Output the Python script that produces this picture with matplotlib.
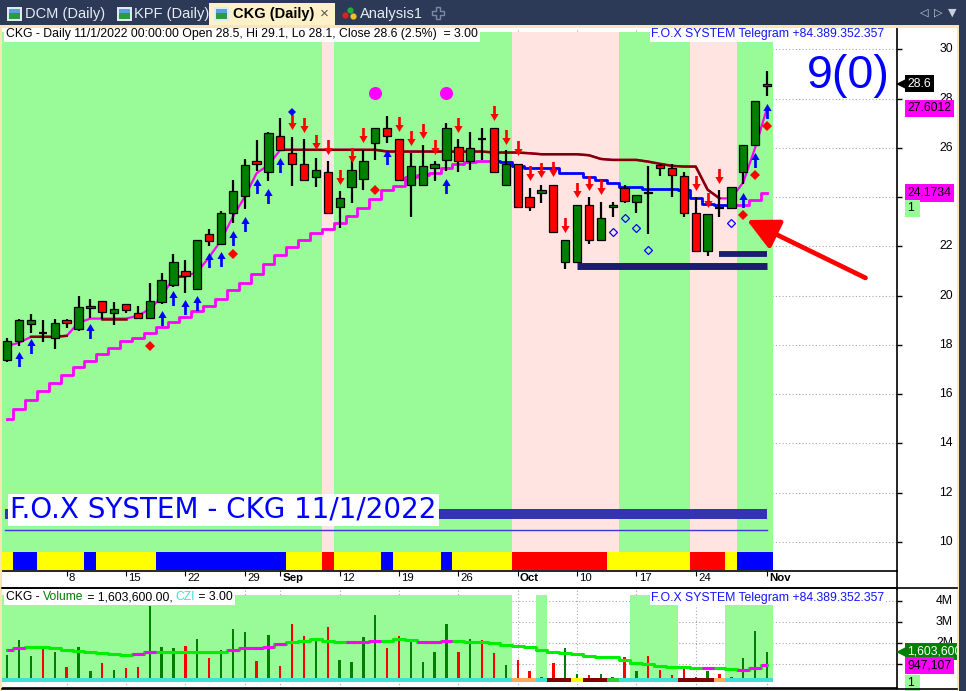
import numpy as np
import matplotlib
matplotlib.use("Agg")
import matplotlib.pyplot as plt
import matplotlib.transforms as mtransforms
from matplotlib.path import Path
from matplotlib.patches import Rectangle
from matplotlib.lines import Line2D
from matplotlib.offsetbox import TextArea, HPacker, AnnotationBbox

plt.rcParams['font.family'] = ['Liberation Sans', 'DejaVu Sans']

W, H = 966, 691

# ---------------- data: CKG daily, 1 Aug 2022 .. 1 Nov 2022 ----------------
tick_bars = [5, 10, 15, 20, 23, 28, 33, 38, 43, 48, 53, 58, 64]
tick_labels = ['8', '15', '22', '29', 'Sep', '12', '19', '26', 'Oct', '10', '17', '24', 'Nov']
months = ['Sep', 'Oct', 'Nov']

opens = [17.4, 18.15, 18.85, 18.5, 18.3, 19.0, 18.65, 19.5, 19.8, 19.3,
         19.65, 19.3, 19.1, 19.75, 20.45, 21.0, 20.25, 22.5, 22.1, 23.35,
         24.05, 25.45, 25.0, 26.5, 25.8, 25.35, 24.8, 25.0, 23.6, 24.4,
         24.75, 26.2, 26.8, 26.35, 24.5, 24.5, 25.2, 25.5, 26.05, 25.45,
         26.35, 26.8, 24.5, 25.35, 24.0, 24.15, 24.5, 21.35, 21.35, 23.7,
         22.25, 23.6, 24.35, 23.8, 24.2, 25.3, 25.2, 24.85, 23.35, 21.8,
         23.55, 23.55, 25.0, 26.1, 28.5]
highs = [18.3, 19.05, 19.25, 19.0, 19.05, 19.05, 20.0, 19.85, 19.8, 19.75,
         19.65, 19.6, 20.5, 20.9, 21.7, 21.45, 22.25, 22.7, 23.45, 24.7,
         25.55, 26.3, 26.65, 27.2, 26.45, 26.35, 25.6, 25.45, 24.25, 25.65,
         25.9, 26.8, 27.3, 26.35, 25.8, 26.1, 25.45, 27.0, 26.35, 26.65,
         26.8, 26.8, 25.9, 25.35, 24.35, 24.5, 24.5, 22.25, 23.7, 24.0,
         23.8, 23.8, 24.5, 24.1, 25.25, 25.35, 25.35, 25.0, 24.0, 23.3,
         24.3, 24.4, 26.1, 27.9, 29.1]
lows = [17.3, 17.95, 18.5, 18.1, 17.85, 18.7, 18.55, 19.1, 19.05, 18.8,
        19.3, 19.1, 19.1, 19.65, 20.35, 20.1, 20.25, 22.0, 22.05, 22.95,
        23.5, 25.05, 24.65, 25.9, 24.45, 24.7, 24.4, 23.35, 22.75, 23.75,
        24.3, 25.5, 26.2, 24.7, 23.2, 24.5, 24.65, 25.05, 25.0, 25.1,
        25.5, 25.0, 24.5, 23.6, 23.45, 23.75, 22.6, 21.1, 21.35, 22.1,
        22.2, 23.2, 23.75, 23.35, 22.5, 24.85, 24.0, 23.2, 21.8, 21.6,
        23.2, 23.55, 24.55, 26.1, 28.1]
closes = [18.15, 19.0, 19.0, 18.5, 18.9, 18.9, 19.55, 19.6, 19.35, 19.45,
          19.4, 19.1, 19.8, 20.65, 21.35, 20.8, 22.25, 22.2, 23.35, 24.25,
          25.3, 25.35, 26.6, 25.9, 25.35, 24.7, 25.1, 23.35, 23.95, 25.1,
          25.45, 26.8, 26.5, 24.7, 25.25, 25.25, 25.35, 26.8, 25.45, 26.0,
          26.35, 25.0, 25.35, 23.6, 23.6, 24.3, 22.6, 22.25, 23.7, 22.25,
          23.15, 23.7, 23.85, 24.1, 24.15, 25.2, 24.9, 23.35, 21.8, 23.3,
          23.55, 24.4, 26.1, 27.9, 28.6]

# volume in millions of shares and its average
volume_m = [1.46, 2.16, 1.41, 1.80, 1.60, 0.86, 1.80, 0.70, 1.05, 0.75,
            0.81, 0.86, 3.76, 1.80, 1.75, 1.88, 2.22, 1.28, 1.69, 2.66,
            2.54, 1.17, 2.39, 0.94, 2.93, 2.35, 2.16, 2.78, 1.22, 1.13,
            2.30, 3.33, 1.75, 2.35, 2.07, 1.13, 1.56, 2.93, 1.56, 2.22,
            2.16, 1.52, 0.99, 1.22, 0.70, 0.42, 1.06, 1.75, 0.55, 0.47,
            0.55, 0.40, 1.36, 0.70, 1.41, 0.75, 0.47, 0.86, 0.42, 0.66,
            0.52, 0.40, 1.28, 2.58, 1.6036]
volume_ma = [1.68, 1.76, 1.80, 1.80, 1.76, 1.68, 1.63, 1.60, 1.52, 1.49,
             1.44, 1.47, 1.60, 1.57, 1.57, 1.57, 1.57, 1.57, 1.57, 1.68,
             1.79, 1.79, 1.83, 1.95, 2.04, 2.10, 2.18, 2.10, 2.04, 2.04,
             2.04, 2.10, 2.10, 2.18, 2.15, 2.07, 2.07, 2.10, 2.10, 2.07,
             2.04, 2.00, 1.91, 1.88, 1.83, 1.68, 1.60, 1.55, 1.49, 1.41,
             1.36, 1.36, 1.20, 1.05, 1.00, 0.93, 0.89, 0.89, 0.81, 0.81,
             0.81, 0.78, 0.73, 0.84, 0.947]
volume_ma_hot = [0, 1, 11, 12, 19, 20, 21, 22, 23, 29, 30, 31, 35, 36, 37, 59, 62, 63, 64]

# trailing stops
fast_stop = [17.96, 18.09, 18.33, 18.33, 18.33, 18.37, 18.9, 19.07, 19.07, 19.07,
             19.07, 19.18, 19.46, 19.93, 20.75, 20.79, 20.95, 21.56, 22.24, 23.2,
             24.01, 24.97, 25.3, 25.92, 25.92, 25.92, 25.92, 25.92, 25.92, 25.92,
             25.92, 25.92, 25.85, 25.85, 25.85, 25.85, 25.85, 25.85, 25.85, 25.85,
             25.85, 25.81, 25.81, 25.81, 25.78, 25.74, 25.74, 25.74, 25.74, 25.7,
             25.55, 25.51, 25.51, 25.51, 25.44, 25.35, 25.27, 25.24, 25.24, 24.3,
             23.95, 23.95, 24.6, 26.0, 27.6012]
fast_resist = [2, 3, 4, 5, 8, 9, 10, 14, 15] + list(range(23, 61))
slow_stop = [14.99, 15.40, 15.76, 16.12, 16.46, 16.78, 17.11, 17.35, 17.64, 17.89,
             18.14, 18.30, 18.50, 18.71, 18.95, 19.14, 19.39, 19.59, 19.86, 20.23,
             20.53, 20.86, 21.29, 21.65, 21.97, 22.24, 22.54, 22.71, 22.95, 23.22,
             23.54, 23.94, 24.29, 24.46, 24.83, 24.90, 24.99, 25.20, 25.35, 25.44,
             25.48, 25.48, 25.44, 25.26, 25.20, 25.20, 25.20, 24.99, 24.99, 24.83,
             24.70, 24.57, 24.43, 24.42, 24.34, 24.34, 24.34, 24.29, 23.97, 23.74,
             23.67, 23.67, 23.70, 23.88, 24.1734]
slow_down_from, slow_down_to = 41, 61

# regime per bar: g = up, p = down
zone = ('ggggggggggggggggggggggggggg' 'p' 'ggggggggggggggg' 'ppppppppp'
        'gggggg' 'pppp' 'ggg')
# state strip: y = neutral, b = buy, r = sell
state = ('y' 'bb' 'yyyy' 'b' 'yyyyy' 'bbbbbbbbbbb' 'yyy' 'r' 'yyyy' 'b' 'yyyy' 'b'
         'yyyyy' 'rrrrrrrr' 'yyyyyyy' 'rrr' 'y' 'bbb')
# volume panel zone and strip
vol_zone = ('g' * 43 + '--' + 'g' + '-------' + 'gggg' + '----' + 'hhhh')
vol_state = ('c' * 43 + 'oo' + 'c' + 'dd' + 'y' + 'dd' + 'g' + 'ccccc' + 'ddd' + 'o' + 'cccc')

# signals
up_bars = [1, 2, 7, 13, 14, 15, 16, 17, 18, 19, 20, 21, 22, 23, 32, 37, 62, 63, 64]
up_levels = [17.43, 17.97, 18.58, 19.08, 19.89, 19.53, 19.69, 21.43, 21.48, 22.33,
             22.90, 24.44, 24.03, 25.32, 25.62, 24.47, 23.88, 25.51, 27.51]
dn_bars = [24, 25, 26, 27, 28, 29, 30, 33, 34, 35, 36, 38, 41, 42, 43, 44, 45, 46,
           47, 48, 49, 50, 58, 59, 60]
dn_levels = [27.04, 26.91, 26.24, 26.05, 24.83, 25.70, 26.52, 26.96, 26.39, 26.67,
             26.05, 26.94, 27.40, 26.45, 25.98, 24.97, 25.10, 25.13, 22.86, 24.30,
             24.59, 24.43, 24.59, 23.90, 24.87]
red_dot_bars = [12, 19, 31, 62, 63, 64]
red_dot_levels = [17.96, 21.69, 24.29, 23.27, 24.90, 26.90]
blue_dot_bars = [24]
blue_dot_levels = [27.47]
hollow_bars = [51, 52, 53, 54, 61]
hollow_levels = [22.60, 23.14, 22.76, 21.85, 22.94]
circle_bars = [31, 37]
circle_levels = [28.22, 28.22]

support_levels = [21.22, 21.69]
support_from = [48, 60]
base_band_level = 11.13
base_line_level = 10.47

price_ticks = [10, 12, 14, 16, 18, 20, 22, 24, 26, 28, 30]
price_tick_shown = [10, 12, 14, 16, 18, 20, 22, 26, 28, 30]
vol_ticks = [1, 2, 3, 4]
vol_tick_labels = ['', '2M', '3M', '4M']

# ---------------- colours ----------------
C_UP_ZONE = '#98fb98'
C_DN_ZONE = '#ffe4e1'
C_GREEN = '#008000'
C_RED = '#ff0000'
C_BLUE = '#0000ff'
C_MAG = '#ff00ff'
C_DKRED = '#800000'
C_NAVY = '#1c1c72'
C_CHROME = '#2c3a57'
C_CREAM = '#f8e7b0'
state_colors = {'y': '#ffff00', 'b': '#0000ff', 'r': '#ff0000'}
vol_state_colors = {'c': '#40e0d0', 'o': '#ffa860', 'd': '#800000', 'y': '#ffff00', 'g': '#32cd32'}


def fx(px):
    return px / W


def fy(py):
    return 1 - py / H


def runs(seq):
    start = 0
    for i in range(1, len(seq) + 1):
        if i == len(seq) or seq[i] != seq[start]:
            yield seq[start], start, i - 1
            start = i


n = len(closes)
x = np.arange(n)
o, hi, lo, c = (np.array(v) for v in (opens, highs, lows, closes))

fig = plt.figure(figsize=(W / 100, H / 100), dpi=100)
fig.patch.set_facecolor('white')

# bar i sits at pixel 7.3 + 11.87 i
XL = ((2 - 7.3) / 11.87, (897 - 7.3) / 11.87)

ax = fig.add_axes([fx(2), fy(571), 895 / W, 543 / H])
axv = fig.add_axes([fx(2), fy(688), 895 / W, 100 / H])

grid_kw = dict(color='#a8a8a8', linestyle=(0, (1, 2)), linewidth=0.8)

# ================= price panel =================
ax.set_xlim(*XL)
ax.set_ylim(8.823, 30.865)
ax.set_axisbelow(True)
ax.grid(True, **grid_kw)
for s in ('left', 'top'):
    ax.spines[s].set_visible(False)
ax.spines['bottom'].set_linewidth(1.2)
ax.spines['right'].set_linewidth(1.2)

zone_top, zone_bot = 30.71, 8.88
for z, a, b in runs(zone):
    ax.fill_between([a - 0.5, b + 0.5], zone_bot, zone_top,
                    color=C_UP_ZONE if z == 'g' else C_DN_ZONE, lw=0, zorder=1)
for s, a, b in runs(state):
    ax.fill_between([a - 0.5, b + 0.5], 8.88, 9.59, color=state_colors[s], lw=0, zorder=2)

# base band and line at the bottom
ax.fill_between([-0.2, 64], base_band_level - 0.2, base_band_level + 0.2,
                color='#3434b0', lw=0, zorder=2)
ax.plot([-0.2, 64], [base_line_level] * 2, color='#3a3ad0', lw=1.0, zorder=2)

# support lines
for lvl, a in zip(support_levels, support_from):
    ax.hlines(lvl, a, n - 1, color=C_NAVY, lw=5.0 if a == support_from[0] else 4.2, zorder=3)

# slow stop (stepped)
sl = np.array(slow_stop)
ax.plot(x[:slow_down_from + 1], sl[:slow_down_from + 1], drawstyle='steps-mid',
        color=C_MAG, lw=2.0, zorder=3)
ax.plot(x[slow_down_from:slow_down_to + 1], sl[slow_down_from:slow_down_to + 1],
        drawstyle='steps-mid', color=C_BLUE, lw=2.0, zorder=3)
ax.plot(x[slow_down_to:], sl[slow_down_to:], drawstyle='steps-mid', color=C_MAG, lw=2.0, zorder=3)

# fast stop
fs = np.array(fast_stop)
ax.plot(x, fs, color=C_MAG, lw=1.6, zorder=3)
res = np.zeros(n, bool)
res[fast_resist] = True
for v, a, b in runs(list(res)):
    if v and b > a:
        ax.plot(x[a:b + 1], fs[a:b + 1], color=C_DKRED, lw=1.8, zorder=3)

# candles
ax.vlines(x, lo, hi, color='black', lw=1.6, zorder=4)
doji = c == o
body = ~doji
ax.bar(x[body], np.abs(c - o)[body], bottom=np.minimum(o, c)[body], width=0.7,
       color=np.where(c > o, C_GREEN, C_RED)[body], edgecolor='black', linewidth=0.9, zorder=5)
ax.hlines(o[doji], x[doji] - 0.35, x[doji] + 0.35, color='black', lw=1.6, zorder=5)

# signal arrows
up_arrow = Path([(0, 1), (0.55, 0.07), (0.18, 0.07), (0.18, -1), (-0.18, -1),
                 (-0.18, 0.07), (-0.55, 0.07), (0, 1)], closed=True)
dn_arrow = Path([(px_, -py_) for px_, py_ in up_arrow.vertices], closed=True)
ax.plot(up_bars, up_levels, ls='none', marker=up_arrow, ms=10.8, color=C_BLUE, mew=0, zorder=6)
ax.plot(dn_bars, dn_levels, ls='none', marker=dn_arrow, ms=10.8, color=C_RED, mew=0, zorder=6)
ax.plot(red_dot_bars, red_dot_levels, ls='none', marker='D', ms=4.6, color=C_RED, mew=0, zorder=6)
ax.plot(blue_dot_bars, blue_dot_levels, ls='none', marker='D', ms=4.2, color=C_BLUE, mew=0, zorder=6)
ax.plot(hollow_bars, hollow_levels, ls='none', marker='D', ms=4.4, mfc='none', mec=C_BLUE,
        mew=0.9, zorder=6)
ax.plot(circle_bars, circle_levels, ls='none', marker='o', ms=9.4, color=C_MAG, mew=0, zorder=6)

# big red pointer
ax.annotate('', xy=(62.3, 23.07), xytext=(72.3, 20.72),
            arrowprops=dict(arrowstyle='-|>,head_length=1.9,head_width=0.95', mutation_scale=10,
                            lw=3.4, color=C_RED, shrinkA=0, shrinkB=0),
            annotation_clip=False, zorder=7)

# axes ticks / labels
ax.set_xticks(tick_bars)
ax.set_yticks(price_ticks)
ax.tick_params(axis='x', direction='out', length=3.8, width=0.8, labelbottom=False)
ax.tick_params(axis='y', direction='out', length=3.8, width=1.0, left=False, right=True,
               labelleft=False, labelright=False)
for pos, lbl in zip(tick_bars, tick_labels):
    ax.annotate(lbl, xy=(pos, 0), xycoords=('data', 'axes fraction'), xytext=(1.6, -1.4),
                textcoords='offset points', ha='left', va='top', fontsize=8.2,
                fontweight='bold' if lbl in months else 'normal', annotation_clip=False)
for v in price_tick_shown:
    ax.annotate(str(v), xy=(1, v), xycoords=('axes fraction', 'data'), xytext=(40.3, 0),
                textcoords='offset points', ha='right', va='center', fontsize=8.8,
                annotation_clip=False)


def tag(a, v, s, fc, tc, pointer=False):
    a.annotate(s, xy=(1, v), xycoords=('axes fraction', 'data'), xytext=(7.6, 0),
               textcoords='offset points', ha='left', va='center', fontsize=8.8, color=tc,
               bbox=dict(boxstyle='square,pad=0.22', fc=fc, ec='none'),
               annotation_clip=False, zorder=9)
    if pointer:
        tr = mtransforms.blended_transform_factory(a.transAxes, a.transData)
        a.plot([1 + 4.3 / 895], [v], marker='<', ms=6.5, color=fc, mew=0, transform=tr,
               clip_on=False, zorder=9)


tag(ax, closes[-1], '28.6', 'black', 'white', pointer=True)
tag(ax, fast_stop[-1], '27.6012', C_MAG, 'black')
tag(ax, slow_stop[-1], '24.1734', C_MAG, 'black')
tag(ax, 23.54, '1 ', C_UP_ZONE, 'black')

# ================= volume panel =================
axv.set_xlim(*XL)
axv.set_ylim(-0.123, 4.616)
axv.set_axisbelow(True)
axv.grid(True, **grid_kw)
axv.spines['left'].set_visible(False)
for s in ('top', 'bottom', 'right'):
    axv.spines[s].set_linewidth(1.2)

strip_lo, strip_hi = 0.175, 0.365
for z, a, b in runs(vol_zone):
    if z in 'gh':
        axv.fill_between([a - 0.5, b + 0.5], strip_hi, 4.28 if z == 'g' else 3.81,
                         color=C_UP_ZONE, lw=0, zorder=1)
for s, a, b in runs(vol_state):
    axv.fill_between([a - 0.5, b + 0.5], strip_lo, strip_hi, color=vol_state_colors[s],
                     lw=0, zorder=2)
vm = np.array(volume_m)
axv.bar(x, vm - strip_hi, bottom=strip_hi, width=0.2,
        color=np.where(c > o, C_GREEN, C_RED), lw=0, zorder=3)
ma = np.array(volume_ma)
axv.plot(x, ma, drawstyle='steps-mid', color='#00ee00', lw=2.2, zorder=4)
hot = np.zeros(n, bool)
hot[volume_ma_hot] = True
axv.hlines(ma[hot], np.clip(x[hot] - 0.5, 0, n - 1), np.clip(x[hot] + 0.5, 0, n - 1),
           color=C_MAG, lw=2.2, zorder=5)

axv.set_xticks(tick_bars)
axv.set_yticks(vol_ticks)
axv.tick_params(axis='x', length=0, labelbottom=False)
axv.tick_params(axis='y', direction='out', length=3.8, width=1.0, left=False, right=True,
                labelleft=False, labelright=False)
for v, s in zip(vol_ticks, vol_tick_labels):
    if s:
        axv.annotate(s, xy=(1, v), xycoords=('axes fraction', 'data'), xytext=(40.3, 0),
                     textcoords='offset points', ha='right', va='center', fontsize=8.8,
                     annotation_clip=False)
tag(axv, volume_m[-1], '1,603,600', C_GREEN, 'white', pointer=True)
tag(axv, volume_ma[-1], '947,107', C_MAG, 'black')
tag(axv, 0.10, '1 ', C_UP_ZONE, 'black')

# ================= texts on the panels =================
renderer = fig.canvas.get_renderer()


def fit(t, target_px):
    w = t.get_window_extent(renderer).width
    t.set_fontsize(t.get_fontsize() * target_px / w)


t = fig.text(fx(6), fy(34), 'CKG - Daily 11/1/2022 00:00:00 Open 28.5, Hi 29.1, Lo 28.1, '
             'Close 28.6 (2.5%)  = 3.00', fontsize=8.4, va='center', ha='left',
             bbox=dict(fc='white', ec='none', pad=1.2))
fit(t, 471)
for yy in (34.5, 598):
    t = fig.text(fx(651), fy(yy), 'F.O.X SYSTEM Telegram +84.389.352.357', fontsize=8.6,
                 color='#1414ff', va='center', ha='left', bbox=dict(fc='white', ec='none', pad=1.0))
    fit(t, 231)
t = fig.text(fx(807), fy(87.5), '9(0)', fontsize=32, color=C_BLUE, va='baseline', ha='left')
fit(t, 83)
t = fig.text(fx(10), fy(510), 'F.O.X SYSTEM - CKG 11/1/2022', fontsize=18, color=C_BLUE,
             va='center', ha='left', family='DejaVu Sans', bbox=dict(fc='white', ec='none', pad=1.5))
fit(t, 427)

parts = [('CKG - ', 'black'), ('Volume', C_GREEN), (' = 1,603,600.00, ', 'black'),
         ('CZI', '#40e0d0'), (' = 3.00', 'black')]
pack = HPacker(children=[TextArea(s, textprops=dict(color=col, fontsize=8.7)) for s, col in parts],
               sep=0, pad=0, align='baseline')
fig.add_artist(AnnotationBbox(pack, (fx(6), fy(591)), xycoords='figure fraction',
                              box_alignment=(0, 1), frameon=True, pad=0.15,
                              bboxprops=dict(fc='white', ec='none'), zorder=6))


# ================= window chrome =================
def frect(x0, y0, x1, y1, color, z=10):
    fig.add_artist(Rectangle((fx(x0), fy(y1)), (x1 - x0) / W, (y1 - y0) / H,
                             transform=fig.transFigure, color=color, lw=0, zorder=z))


def fline(xs, ys, color='black', lw=1.2, z=10):
    fig.add_artist(Line2D([fx(v) for v in xs], [fy(v) for v in ys], color=color, lw=lw,
                          transform=fig.transFigure, zorder=z))


frect(0, 0, W, 25, C_CHROME)
frect(0, 25, 959, 27.5, C_CREAM)
frect(0, 25, 2, H, C_CREAM)
frect(957, 25, 959, H, C_CREAM)
frect(959, 0, W, H, C_CHROME)
fline([897, 897], [571, 589])
fline([2, 957], [588, 588])
fline([2, 957], [688.5, 688.5])

# tabs
frect(209, 3, 335, 25, '#fdf1c8', z=11)
for ix in (7, 117, 214):
    frect(ix, 7, ix + 15, 21, '#dfeaf6', z=12)
    frect(ix + 2, 13, ix + 13, 19, '#2f9a3c', z=13)
    frect(ix + 2, 9, ix + 13, 13, '#5aa0e0', z=13)
tab_kw = dict(fontsize=10.5, va='center', ha='left', zorder=14)
fig.text(fx(25), fy(14), 'DCM (Daily)', color='#e8ecf4', **tab_kw)
fig.text(fx(134), fy(14), 'KPF (Daily)', color='#e8ecf4', **tab_kw)
fig.text(fx(233), fy(14), 'CKG (Daily)', color='black', fontweight='bold', **tab_kw)
fig.text(fx(320), fy(13.5), '×', color='#555555', fontsize=11, va='center', ha='left', zorder=14)
fig.text(fx(360), fy(14), 'Analysis1', color='#e8ecf4', **tab_kw)
for cx, cy, col in ((345, 15, '#e02020'), (350, 10, '#20b040'), (353, 16, '#f0c020')):
    fig.add_artist(Line2D([fx(cx)], [fy(cy)], marker='o', ms=4.5, color=col, mew=0,
                          transform=fig.transFigure, zorder=14))
fig.add_artist(Line2D([fx(438)], [fy(13)], marker='P', ms=9, mfc='none', mec='#7c8aa6',
                      mew=1.0, transform=fig.transFigure, zorder=14))
for cx, s in ((924, '◁'), (938, '▷'), (952, '▼')):
    fig.text(fx(cx), fy(13), s, color='#c8d0de', fontsize=8, family='DejaVu Sans',
             va='center', ha='center', zorder=14)

fig.savefig('out.png', dpi=100, facecolor='white')
